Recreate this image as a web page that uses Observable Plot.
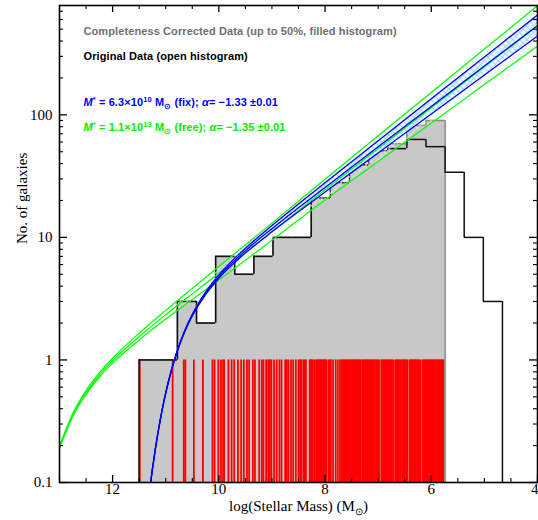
<!DOCTYPE html>
<html><head><meta charset="utf-8">
<script src="https://cdn.jsdelivr.net/npm/d3@7"></script>
<script src="https://cdn.jsdelivr.net/npm/@observablehq/plot@0.6"></script>
<style>body{margin:0;background:#fff}#chart svg{display:block}</style>
</head><body><div id="chart"></div>
<script>
// ---------- data ----------
const binEdges = [11.5, 11.14, 10.78, 10.42, 10.06, 9.70, 9.34, 8.98, 8.62, 8.26, 7.90, 7.54, 7.18, 6.82, 6.46, 6.10, 5.74, 5.38, 5.02, 4.66];
const originalCounts = [1, 1, 3, 2, 7, 5, 7, 10, 10, 21, 28, 39, 51, 53, 63, 55, 34, 10, 3];
const correctedCounts = [1, 1, 3, 2, 7, 5, 7, 10, 10, 21, 28, 39, 51, 58, 82, 90];
const dashedBins = [9, 10, 11, 12];
const rugMasses = [11.49, 10.87, 10.66, 10.63, 10.47, 10.30, 10.12, 10.08, 10.01, 9.96, 9.92, 9.90, 9.82, 9.76, 9.71,
  9.64, 9.58, 9.53, 9.47, 9.43, 9.36, 9.32, 9.24, 9.19, 9.16, 9.11, 9.07, 9.04, 9.01, 8.96, 8.91, 8.86, 8.82, 8.75,
  8.72, 8.69, 8.64, 8.60, 8.55, 8.50, 8.47,
  8.45, 8.41, 8.38, 8.36, 8.29, 8.27, 8.25, 8.23, 8.20, 8.17, 8.15, 8.13, 8.11, 8.09, 8.07, 8.05, 8.03, 8.01, 7.99,
  7.97, 7.93, 7.91, 7.89, 7.85, 7.80, 7.76, 7.72, 7.69, 7.67, 7.65, 7.63, 7.61, 7.59, 7.57, 7.55, 7.53, 7.51, 7.49,
  7.47, 7.45, 7.43, 7.41, 7.39, 7.37, 7.35, 7.33, 7.30, 7.28, 7.26, 7.24, 7.22, 7.20, 7.18, 7.16, 7.14, 7.12, 7.10,
  7.08, 7.06, 7.04, 7.02, 7.00, 6.98, 6.94, 6.92, 6.90, 6.88, 6.86, 6.84, 6.82, 6.80, 6.78, 6.76, 6.74, 6.72, 6.68,
  6.66, 6.64, 6.62, 6.60, 6.58, 6.55, 6.53, 6.51, 6.49, 6.47, 6.45, 6.41, 6.39, 6.37, 6.35, 6.33, 6.31, 6.29, 6.27,
  6.25, 6.23, 6.21, 6.17, 6.15, 6.13, 6.11, 6.09, 6.07, 6.05, 6.03, 6.01, 5.99, 5.97, 5.95, 5.93, 5.91, 5.89, 5.87,
  5.85, 5.83, 5.81, 5.79, 5.77];
const rugSpan = [0.1, 1];

const blueX     = [11.3, 11.25, 11.2, 11.15, 11.1, 11.05, 11.0, 10.9, 10.8, 10.7, 10.6, 10.5, 10.25, 10.0, 9.5, 9.0, 8.5, 8.0, 7.0, 6.0, 5.0, 4.0];
const blueMid   = [0.088, 0.129, 0.182, 0.249, 0.330, 0.426, 0.537, 0.803, 1.122, 1.488, 1.889, 2.321, 3.496, 4.782, 7.79, 11.78, 17.43, 25.57, 54.8, 117.1, 250.3, 535.0];
const blueUpper = [0.088, 0.129, 0.182, 0.250, 0.332, 0.428, 0.541, 0.809, 1.132, 1.505, 1.915, 2.359, 3.577, 4.939, 8.157, 12.51, 18.76, 27.91, 61.49, 135.1, 296.8, 652.2];
const blueLower = [0.088, 0.129, 0.182, 0.248, 0.328, 0.424, 0.533, 0.797, 1.112, 1.471, 1.863, 2.284, 3.416, 4.630, 7.44, 11.10, 16.19, 23.43, 48.84, 101.5, 211.1, 438.9];

const greenX     = [13.0, 12.75, 12.5, 12.25, 12.0, 11.5, 11.0, 10.5, 10.0, 9.0, 8.0, 7.0, 6.0, 5.0, 4.0];
const greenUpper = [0.199, 0.366, 0.563, 0.783, 1.033, 1.653, 2.536, 3.837, 5.78, 13.07, 29.83, 67.4, 152.3, 344.1, 777];
const greenMid   = [0.1945, 0.3556, 0.5439, 0.7521, 0.9865, 1.552, 2.340, 3.459, 5.093, 11.12, 24.53, 52.93, 114.2, 246.4, 531.4];
const greenLower = [0.190, 0.3455, 0.5254, 0.7224, 0.942, 1.456, 2.158, 3.119, 4.487, 9.468, 20.17, 41.56, 85.64, 176.5, 363.4];

const xDomain = [13, 4];
const yDomain = [0.1, 780];
const xMajorTicks = [12, 10, 8, 6, 4];
const xTickLabels = ["12", "10", "8", "6", "4"];
const xMinorTicks = [13, 12.5, 11.5, 11, 10.5, 9.5, 9, 8.5, 7.5, 7, 6.5, 5.5, 5, 4.5];
const yMajorTicks = [0.1, 1, 10, 100];
const yTickLabels = ["0.1", "1", "10", "100"];
const yMinorTicks = [0.2, 0.3, 0.4, 0.5, 0.6, 0.7, 0.8, 0.9, 2, 3, 4, 5, 6, 7, 8, 9, 20, 30, 40, 50, 60, 70, 80, 90, 200, 300, 400, 500, 600, 700];

const xTitle = "log(Stellar Mass) (M⊙)";
const yTitle = "No. of galaxies";
const legendCorrected = "Completeness Corrected Data (up to 50%, filled histogram)";
const legendOriginal = "Original Data (open histogram)";
const legendBlue = "M* = 6.3×10¹⁰ M⊙ (fix); α= −1.33 ±0.01";
const legendGreen = "M* = 1.1×10¹³ M⊙ (free); α= −1.35 ±0.01";

// ---------- derived tables ----------
const W = 538, H = 520, mt = 5, mb = 38, ml = 59, mr = 1;
const frameH = H - mt - mb, frameW = W - ml - mr;
const yMin = yDomain[0];

const grayStep = correctedCounts.map((v, i) => ({x: binEdges[i], v}))
  .concat([{x: binEdges[correctedCounts.length], v: correctedCounts[correctedCounts.length - 1]}]);
function segments(counts) {
  const h = counts.map((v, i) => ({x1: binEdges[i], x2: binEdges[i + 1], y: v, dashed: dashedBins.includes(i)}));
  const v = [];
  for (let i = 0; i <= counts.length; i++) {
    v.push({x: binEdges[i], y1: i === 0 ? yMin : counts[i - 1], y2: i === counts.length ? yMin : counts[i],
      dashed: dashedBins.includes(i) && dashedBins.includes(i - 1)});
  }
  return {h, v};
}
const orig = segments(originalCounts);
const corr = segments(correctedCounts);
const blueData = blueX.map((x, i) => ({x, mid: blueMid[i], up: blueUpper[i], lo: blueLower[i]}));
const greenData = greenX.map((x, i) => ({x, mid: greenMid[i], up: greenUpper[i], lo: greenLower[i]}));
const xLabelRows = xMajorTicks.map((x, i) => ({x, label: xTickLabels[i], edge: x === xDomain[1]}));

const serif = "Liberation Serif";
const sans = "Liberation Sans";
const legendStyle = {frameAnchor: "top-left", textAnchor: "start", dx: 24, fontFamily: sans, fontWeight: "bold", fontSize: 11};

const svg = Plot.plot({
  width: W, height: H, marginTop: mt, marginBottom: mb, marginLeft: ml, marginRight: mr,
  x: {domain: xDomain, axis: null},
  y: {type: "log", domain: yDomain, axis: null},
  style: {fontFamily: serif, fontSize: "15px", background: "white", color: "black"},
  marks: [
    Plot.areaY(grayStep, {x: "x", y1: yMin, y2: "v", curve: "step-after", fill: "#c8c8c8"}),
    Plot.ruleX(rugMasses, {x: d => d, y1: rugSpan[0], y2: rugSpan[1], stroke: "#ff0000", strokeWidth: 1.8}),
    // corrected outline (gray)
    Plot.ruleY(corr.h, {x1: "x1", x2: "x2", y: "y", stroke: "#8a8a8a", strokeWidth: 1.6}),
    Plot.ruleX(corr.v, {x: "x", y1: "y1", y2: "y2", stroke: "#8a8a8a", strokeWidth: 1.6}),
    // original histogram (black)
    Plot.ruleY(orig.h.filter(d => !d.dashed), {x1: "x1", x2: "x2", y: "y", stroke: "#111", strokeWidth: 1.5}),
    Plot.ruleY(orig.h.filter(d => d.dashed), {x1: "x1", x2: "x2", y: "y", stroke: "#111", strokeWidth: 1.3, strokeDasharray: "4,2"}),
    Plot.ruleX(orig.v.filter(d => !d.dashed), {x: "x", y1: "y1", y2: "y2", stroke: "#111", strokeWidth: 1.5}),
    Plot.ruleX(orig.v.filter(d => d.dashed), {x: "x", y1: "y1", y2: "y2", stroke: "#111", strokeWidth: 1.3, strokeDasharray: "4,2"}),
    // fitted Schechter bands
    Plot.areaY(greenData, {x: "x", y1: "lo", y2: "up", fill: "url(#hatchGreen)", curve: "monotone-x", clip: true}),
    Plot.areaY(blueData, {x: "x", y1: "lo", y2: "up", fill: "url(#hatchBlue)", curve: "monotone-x", clip: true}),
    Plot.line(greenData, {x: "x", y: "up", stroke: "#00ff00", strokeWidth: 1.2, curve: "monotone-x", clip: true}),
    Plot.line(greenData, {x: "x", y: "mid", stroke: "#00ff00", strokeWidth: 1.2, curve: "monotone-x", clip: true}),
    Plot.line(greenData, {x: "x", y: "lo", stroke: "#00ff00", strokeWidth: 1.2, curve: "monotone-x", clip: true}),
    Plot.line(blueData, {x: "x", y: "up", stroke: "#0000ff", strokeWidth: 1.3, curve: "monotone-x", clip: true}),
    Plot.line(blueData, {x: "x", y: "mid", stroke: "#0000ff", strokeWidth: 1.3, curve: "monotone-x", clip: true}),
    Plot.line(blueData, {x: "x", y: "lo", stroke: "#0000ff", strokeWidth: 1.3, curve: "monotone-x", clip: true}),
    // frame and inward ticks
    Plot.frame({stroke: "black", strokeWidth: 1.6}),
    Plot.ruleX(xMajorTicks, {x: d => d, insetTop: frameH - 7, stroke: "black", strokeWidth: 1.3}),
    Plot.ruleX(xMajorTicks, {x: d => d, insetBottom: frameH - 7, stroke: "black", strokeWidth: 1.3}),
    Plot.ruleX(xMinorTicks, {x: d => d, insetTop: frameH - 4, stroke: "black", strokeWidth: 1.1}),
    Plot.ruleX(xMinorTicks, {x: d => d, insetBottom: frameH - 4, stroke: "black", strokeWidth: 1.1}),
    Plot.ruleY(yMajorTicks, {y: d => d, insetRight: frameW - 8, stroke: "black", strokeWidth: 1.3}),
    Plot.ruleY(yMajorTicks, {y: d => d, insetLeft: frameW - 8, stroke: "black", strokeWidth: 1.3}),
    Plot.ruleY(yMinorTicks, {y: d => d, insetRight: frameW - 4, stroke: "black", strokeWidth: 1.1}),
    Plot.ruleY(yMinorTicks, {y: d => d, insetLeft: frameW - 4, stroke: "black", strokeWidth: 1.1}),
    // tick labels & titles
    Plot.text(xLabelRows.filter(d => !d.edge), {x: "x", text: "label", frameAnchor: "bottom", dy: 11, fontSize: 15}),
    Plot.text(xLabelRows.filter(d => d.edge), {x: "x", text: "label", frameAnchor: "bottom", dy: 11, fontSize: 15, textAnchor: "end", dx: 1}),
    Plot.text(yMajorTicks, {y: d => d, text: (d, i) => yTickLabels[i], frameAnchor: "left", dx: -7, textAnchor: "end", fontSize: 15}),
    Plot.text([xTitle], {text: d => d, frameAnchor: "bottom", dy: 28, fontSize: 15}),
    Plot.text([yTitle], {text: d => d, frameAnchor: "left", dx: -37, rotate: -90, fontSize: 15}),
    // legend texts
    Plot.text([legendCorrected], {...legendStyle, text: d => d, dy: 22, fill: "#707070"}),
    Plot.text([legendOriginal], {...legendStyle, text: d => d, dy: 47, fill: "#000"}),
    Plot.text([legendBlue], {...legendStyle, text: d => d, dy: 93, fill: "#0000ff"}),
    Plot.text([legendGreen], {...legendStyle, text: d => d, dy: 118, fill: "#00ee00"})
  ]
});

// hatch patterns
const defsSrc = `<svg xmlns="http://www.w3.org/2000/svg"><defs>
<pattern id="hatchBlue" width="5" height="5" patternUnits="userSpaceOnUse" patternTransform="rotate(45)">
<rect width="5" height="5" fill="#eef7ff"/>
<path d="M0,0H5M0,0V5" stroke="#94cdff" stroke-width="1.5"/></pattern>
<pattern id="hatchGreen" width="5" height="5" patternUnits="userSpaceOnUse" patternTransform="rotate(45)">
<path d="M0,0H5M0,0V5" stroke="#d2f7d2" stroke-width="1.2"/></pattern>
</defs></svg>`;
const parsed = new DOMParser().parseFromString(defsSrc, "image/svg+xml");
svg.insertBefore(document.importNode(parsed.documentElement.firstElementChild, true), svg.firstChild);

// rich text: superscripts / subscripts, letter spacing on legend lines
const NS = "http://www.w3.org/2000/svg";
function rich(el, parts) {
  el.textContent = "";
  for (const [t, opt] of parts) {
    const ts = document.createElementNS(NS, "tspan");
    ts.textContent = t;
    if (opt) for (const k in opt) ts.setAttribute(k, opt[k]);
    el.appendChild(ts);
  }
}
const it = {"font-style": "italic"};
const sup = {"dy": "-4", "font-size": "7.5"};
const back = {"dy": "4"};
const sub = {"dy": "2.5", "font-size": "7.5"};
const unsub = {"dy": "-2.5"};
svg.querySelectorAll("text").forEach(t => {
  const s = t.textContent;
  if ([legendCorrected, legendOriginal, legendBlue, legendGreen].includes(s)) t.setAttribute("letter-spacing", "0.1");
  if (s === legendBlue || s === legendGreen) {
    const blue = s === legendBlue;
    rich(t, [["M", it], ["*", sup], [blue ? " = 6.3×10" : " = 1.1×10", back], [blue ? "10" : "13", sup],
      [" M", back], ["⊙", sub], [blue ? " (fix); " : " (free); ", unsub], ["α", it],
      [blue ? "= −1.33 ±0.01" : "= −1.35 ±0.01", null]]);
  } else if (s === xTitle) {
    rich(t, [["log(Stellar Mass) (M", null], ["⊙", {"dy": "4", "font-size": "10"}], [")", {"dy": "-4"}]]);
  }
});
document.getElementById("chart").appendChild(svg);
</script></body></html>
